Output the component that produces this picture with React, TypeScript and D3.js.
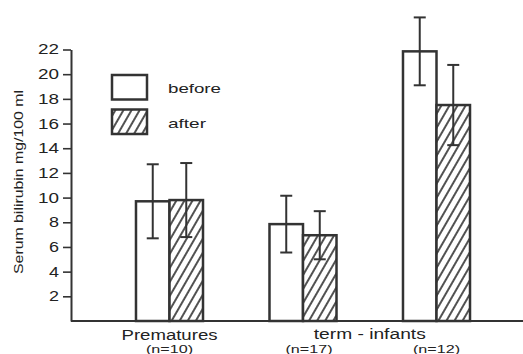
import React, { useEffect, useRef } from "react";
import * as d3 from "d3";

const groups = ["Prematures", "Term n=17", "Term n=12"];
const nLabels = ["(n=10)", "(n=17)", "(n=12)"];
const series = ["before", "after"];
const beforeMean = [9.7, 7.85, 21.85];
const beforeErr = [3.0, 2.3, 2.75];
const afterMean = [9.8, 6.95, 17.5];
const afterErr = [3.0, 1.95, 3.25];
const yTicks = [2, 4, 6, 8, 10, 12, 14, 16, 18, 20, 22];

const W = 523;
const H = 354;
const ink = "#333";
const font = "'Liberation Sans', Arial, sans-serif";

const App = () => {
  const ref = useRef<SVGSVGElement>(null);

  useEffect(() => {
    const svg = d3.select(ref.current);
    svg.selectAll("*").remove();

    const y = d3.scaleLinear().domain([0, 22]).range([321, 49.5]);
    const x = d3
      .scaleBand()
      .domain(groups)
      .range([102.75, 503.25])
      .paddingInner(0.498)
      .paddingOuter(0.249);
    const xs = d3.scaleBand().domain(series).range([0, x.bandwidth()]);

    const defs = svg.append("defs");
    const pat = defs
      .append("pattern")
      .attr("id", "hatch")
      .attr("patternUnits", "userSpaceOnUse")
      .attr("width", 7)
      .attr("height", 7)
      .attr("patternTransform", "rotate(30)");
    pat.append("rect").attr("width", 7).attr("height", 7).attr("fill", "#fff");
    pat
      .append("line")
      .attr("x1", 1)
      .attr("x2", 1)
      .attr("y1", 0)
      .attr("y2", 7)
      .attr("stroke", ink)
      .attr("stroke-width", 1.7);

    // y axis
    const axis = svg
      .append("g")
      .attr("transform", "translate(71,0)")
      .call(
        d3.axisLeft(y).tickValues(yTicks).tickSize(8).tickSizeOuter(0).tickPadding(4).tickFormat(d3.format("d"))
      );
    axis.select(".domain").attr("stroke", ink).attr("stroke-width", 2);
    axis.selectAll(".tick line").attr("stroke", ink).attr("stroke-width", 1.6);
    axis
      .selectAll<SVGTextElement, number>(".tick text")
      .attr("fill", "#222")
      .attr("font-family", font)
      .attr("font-size", 14)
      .attr("textLength", (d) => (String(d).length > 1 ? 21 : 10))
      .attr("lengthAdjust", "spacingAndGlyphs");

    // bars
    const data = groups.flatMap((g, i) => [
      { g, s: "before", v: beforeMean[i], e: beforeErr[i] },
      { g, s: "after", v: afterMean[i], e: afterErr[i] },
    ]);

    const bars = svg.append("g");
    bars
      .selectAll("rect")
      .data(data)
      .enter()
      .append("rect")
      .attr("x", (d) => (x(d.g) as number) + (xs(d.s) as number))
      .attr("y", (d) => y(d.v))
      .attr("width", xs.bandwidth())
      .attr("height", (d) => y(0) - y(d.v))
      .attr("fill", (d) => (d.s === "after" ? "url(#hatch)" : "#fff"))
      .attr("stroke", ink)
      .attr("stroke-width", 2.5);

    // error bars
    const err = svg.append("g").attr("stroke", ink).attr("stroke-width", 2);
    data.forEach((d) => {
      const cx = (x(d.g) as number) + (xs(d.s) as number) + xs.bandwidth() / 2;
      err.append("line").attr("x1", cx).attr("x2", cx).attr("y1", y(d.v + d.e)).attr("y2", y(d.v - d.e));
      [d.v + d.e, d.v - d.e].forEach((v) =>
        err.append("line").attr("x1", cx - 6).attr("x2", cx + 6).attr("y1", y(v)).attr("y2", y(v))
      );
    });

    // baseline
    svg
      .append("line")
      .attr("x1", 71)
      .attr("x2", W)
      .attr("y1", y(0))
      .attr("y2", y(0))
      .attr("stroke", ink)
      .attr("stroke-width", 2);

    // x labels
    const lab = svg.append("g").attr("fill", "#222").attr("font-family", font).attr("text-anchor", "middle");
    const c = groups.map((g) => (x(g) as number) + x.bandwidth() / 2);
    lab
      .append("text")
      .attr("x", c[0])
      .attr("y", 340)
      .attr("font-size", 14)
      .attr("textLength", 96)
      .attr("lengthAdjust", "spacingAndGlyphs")
      .text("Prematures");
    lab
      .append("text")
      .attr("x", (c[1] + c[2]) / 2)
      .attr("y", 339)
      .attr("font-size", 14)
      .attr("textLength", 112)
      .attr("lengthAdjust", "spacingAndGlyphs")
      .text("term - infants");
    nLabels.forEach((t, i) =>
      lab
        .append("text")
        .attr("x", c[i] + (i === 1 ? 6 : 0))
        .attr("y", 352.5)
        .attr("font-size", 11)
        .attr("textLength", 47)
        .attr("lengthAdjust", "spacingAndGlyphs")
        .text(t)
    );

    // y label
    svg
      .append("text")
      .attr("transform", "translate(23,182) rotate(-90)")
      .attr("text-anchor", "middle")
      .attr("fill", "#222")
      .attr("font-family", font)
      .attr("font-size", 12)
      .attr("textLength", 184)
      .attr("lengthAdjust", "spacingAndGlyphs")
      .text("Serum bilirubin mg/100 ml");

    // legend
    const leg = svg.append("g");
    series.forEach((s, i) => {
      const top = i === 0 ? 75 : 109.5;
      leg
        .append("rect")
        .attr("x", 112)
        .attr("y", top)
        .attr("width", 35)
        .attr("height", 24.5)
        .attr("fill", s === "after" ? "url(#hatch)" : "#fff")
        .attr("stroke", ink)
        .attr("stroke-width", 2.5);
      leg
        .append("text")
        .attr("x", 168)
        .attr("y", top + 18)
        .attr("fill", "#222")
        .attr("font-family", font)
        .attr("font-size", 13)
        .attr("textLength", s === "after" ? 38 : 53)
        .attr("lengthAdjust", "spacingAndGlyphs")
        .text(s);
    });
  }, []);

  return (
    <svg
      ref={ref}
      width={W}
      height={H}
      style={{ position: "absolute", left: 0, top: 0, background: "#fff" }}
    />
  );
};

export default App;
